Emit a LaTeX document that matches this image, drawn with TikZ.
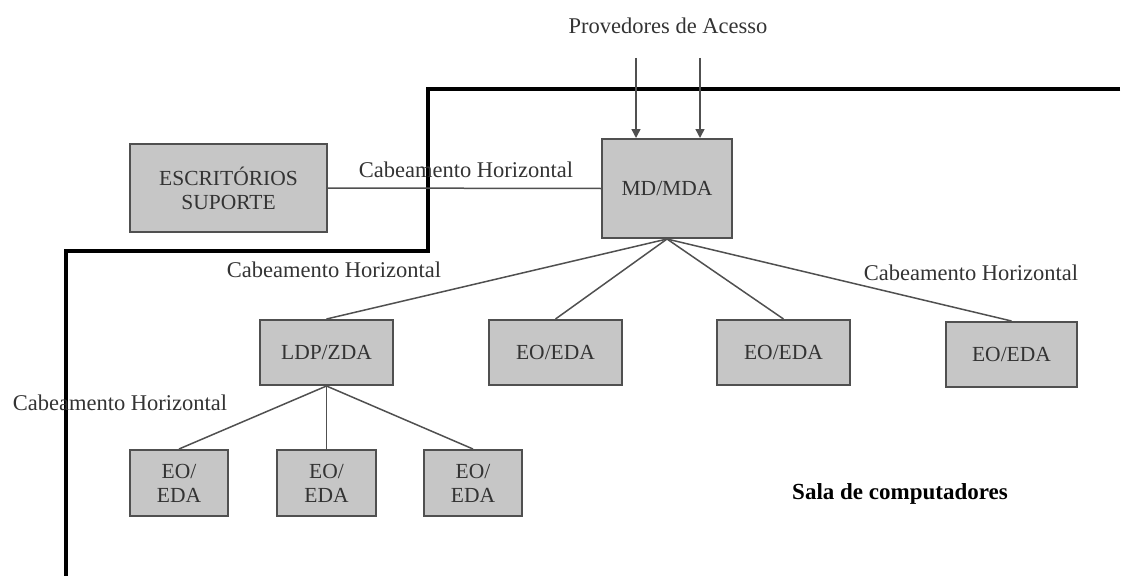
\documentclass[tikz,border=0pt]{standalone}
\usepackage{fontspec}
\setmainfont{Liberation Serif}
\usetikzlibrary{arrows.meta}
\definecolor{boxfill}{HTML}{C6C6C6}
\definecolor{boxline}{HTML}{505050}
\definecolor{txt}{HTML}{333333}
\begin{document}
\begin{tikzpicture}[x=1pt,y=-1pt,
  box/.style={draw=boxline,line width=2pt,fill=boxfill,inner sep=0pt,align=center,text=txt,font=\fontsize{21.5}{24}\selectfont},
  conn/.style={draw=boxline,line width=1.5pt},
  lbl/.style={text=txt,inner sep=0pt,font=\fontsize{22.5}{25}\selectfont},
  wall/.style={draw=black,line width=3.5pt}]
\useasboundingbox (0,0) rectangle (1131,575);
% boundary
\draw[wall] (1120,89) -- (428,89) -- (428,251) -- (66,251) -- (66,576);
% nodes
\node[box,minimum width=197pt,minimum height=88pt] (esc) at (228.5,188) {ESCRITÓRIOS\\SUPORTE};
\node[box,minimum width=130pt,minimum height=99pt] (md) at (667,188.5) {MD/MDA};
\node[box,minimum width=133pt,minimum height=65pt] (ldp) at (326.5,352.5) {LDP/ZDA};
\node[box,minimum width=133pt,minimum height=65pt] (eo1) at (555.5,352.5) {EO/EDA};
\node[box,minimum width=133pt,minimum height=65pt] (eo2) at (783.5,352.5) {EO/EDA};
\node[box,minimum width=131pt,minimum height=65pt] (eo3) at (1011.5,354.5) {EO/EDA};
\node[box,minimum width=98pt,minimum height=66pt] (b1) at (179,483) {EO/\\EDA};
\node[box,minimum width=99pt,minimum height=66pt] (b2) at (326.5,483) {EO/\\EDA};
\node[box,minimum width=98pt,minimum height=66pt] (b3) at (473,483) {EO/\\EDA};
% labels
\node[lbl] (prov) at (668,26) {Provedores de Acesso};
\node[lbl] (l1) at (466,170) {Cabeamento Horizontal};
\node[lbl] (l2) at (334,270) {Cabeamento Horizontal};
\node[lbl] (l3) at (971,273) {Cabeamento Horizontal};
\node[lbl] (l4) at (120,403) {Cabeamento Horizontal};
\node[lbl,font=\fontsize{23}{25}\selectfont\bfseries,text=black] (sala) at (900,494) {Sala de computadores};
% arrows
\coordinate (a1) at (636,58);
\coordinate (a2) at (700,58);
\draw[conn,-{Triangle[length=9pt,width=9pt]}] (a1) -- (a1 |- md.north);
\draw[conn,-{Triangle[length=9pt,width=9pt]}] (a2) -- (a2 |- md.north);
% connectors
\draw[conn] (esc.east) -- (md.west);
\draw[conn] (md.south) -- (ldp.north);
\draw[conn] (md.south) -- (eo1.north);
\draw[conn] (md.south) -- (eo2.north);
\draw[conn] (md.south) -- (eo3.north);
\draw[conn] (ldp.south) -- (b1.north);
\draw[conn] (ldp.south) -- (b2.north);
\draw[conn] (ldp.south) -- (b3.north);
\end{tikzpicture}
\end{document}
